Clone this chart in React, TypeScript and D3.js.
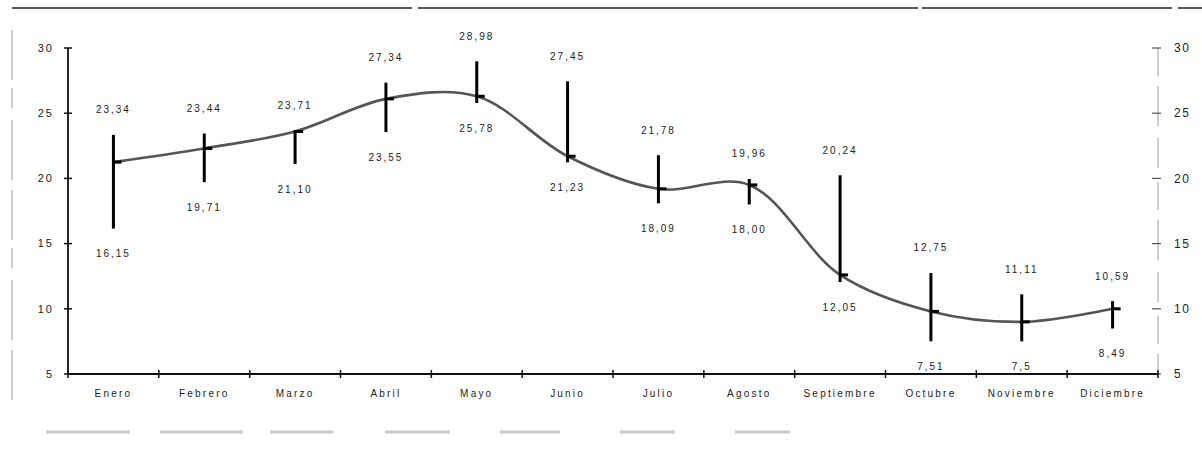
import React, { useEffect, useRef } from "react";
import * as d3 from "d3";

// monthly categories
const months = [
  "Enero", "Febrero", "Marzo", "Abril", "Mayo", "Junio",
  "Julio", "Agosto", "Septiembre", "Octubre", "Noviembre", "Diciembre",
];
// mean line
const meanValues = [21.25, 22.3, 23.6, 26.1, 26.3, 21.7, 19.2, 19.5, 12.6, 9.8, 9.0, 10.0];
// error bar ends
const maxValues = [23.34, 23.44, 23.71, 27.34, 28.98, 27.45, 21.78, 19.96, 20.24, 12.75, 11.11, 10.59];
const minValues = [16.15, 19.71, 21.1, 23.55, 25.78, 21.23, 18.09, 18.0, 12.05, 7.51, 7.5, 8.49];
const maxLabels = ["23,34", "23,44", "23,71", "27,34", "28,98", "27,45", "21,78", "19,96", "20,24", "12,75", "11,11", "10,59"];
const minLabels = ["16,15", "19,71", "21,10", "23,55", "25,78", "21,23", "18,09", "18,00", "12,05", "7,51", "7,5", "8,49"];
const yTicks = [5, 10, 15, 20, 25, 30];

const W = 1202;
const H = 459;
const FONT = "'Liberation Sans', Arial, sans-serif";

const App = () => {
  const svgRef = useRef(null);

  useEffect(() => {
    const svg = d3.select(svgRef.current);
    svg.selectAll("*").remove();

    const left = 68;
    const right = 1158;
    const top = 48;
    const bottom = 374;

    const x = d3.scaleBand().domain(months).range([left, right]);
    const y = d3.scaleLinear().domain([5, 30]).range([bottom, top]);
    const cx = (m) => x(m) + x.bandwidth() / 2;

    // scan frame remnants
    svg.append("line")
      .attr("x1", 12).attr("x2", W).attr("y1", 8).attr("y2", 8)
      .attr("stroke", "#222").attr("stroke-width", 1.4)
      .attr("stroke-dasharray", "400,6,500,4,250,6,400");
    svg.append("line")
      .attr("x1", 12).attr("x2", 12).attr("y1", 30).attr("y2", 400)
      .attr("stroke", "#999").attr("stroke-width", 1)
      .attr("stroke-dasharray", "50,8,20,12,60,10");
    [[46, 130], [160, 243], [270, 333], [385, 450], [500, 560], [620, 675], [735, 790]].forEach(([a, b]) => {
      svg.append("line")
        .attr("x1", a).attr("x2", b).attr("y1", 432).attr("y2", 432)
        .attr("stroke", "#c8c8c8").attr("stroke-width", 3);
    });

    // left axis
    svg.append("line")
      .attr("x1", left).attr("x2", left).attr("y1", y(30)).attr("y2", y(5))
      .attr("stroke", "#111").attr("stroke-width", 1.8);
    yTicks.forEach((t) => {
      svg.append("line")
        .attr("x1", left - 4).attr("x2", left + 4).attr("y1", y(t)).attr("y2", y(t))
        .attr("stroke", "#111").attr("stroke-width", 1.5);
      svg.append("text")
        .attr("x", left - 14).attr("y", y(t)).attr("dy", "0.35em")
        .attr("text-anchor", "end")
        .style("font-family", FONT).style("font-size", "11px")
        .style("letter-spacing", "2px").style("fill", "#222")
        .text(t);
    });

    // right axis
    svg.append("line")
      .attr("x1", right).attr("x2", right).attr("y1", y(30)).attr("y2", y(5))
      .attr("stroke", "#999").attr("stroke-width", 1)
      .attr("stroke-dasharray", "28,10,40,12,30,14");
    yTicks.forEach((t) => {
      svg.append("line")
        .attr("x1", right - 6).attr("x2", right + 3).attr("y1", y(t)).attr("y2", y(t))
        .attr("stroke", "#555").attr("stroke-width", 1.2);
      svg.append("text")
        .attr("x", right + 16).attr("y", y(t)).attr("dy", "0.35em")
        .attr("text-anchor", "start")
        .style("font-family", FONT).style("font-size", "12px")
        .style("letter-spacing", "1.5px").style("fill", "#222")
        .text(t);
    });

    // x axis
    svg.append("line")
      .attr("x1", left).attr("x2", right).attr("y1", bottom).attr("y2", bottom)
      .attr("stroke", "#111").attr("stroke-width", 2);
    months.concat(["end"]).forEach((m, i) => {
      const px = i < months.length ? x(m) : right;
      svg.append("line")
        .attr("x1", px).attr("x2", px).attr("y1", bottom - 4).attr("y2", bottom + 4)
        .attr("stroke", "#111").attr("stroke-width", 1.5);
    });
    months.forEach((m) => {
      svg.append("text")
        .attr("x", cx(m)).attr("y", 397)
        .attr("text-anchor", "middle")
        .style("font-family", FONT).style("font-size", "10px")
        .style("letter-spacing", "2.2px").style("fill", "#222")
        .text(m);
    });

    // mean curve
    const line = d3.line()
      .x((d, i) => cx(months[i]))
      .y((d) => y(d))
      .curve(d3.curveCatmullRom.alpha(0.5));
    svg.append("path")
      .datum(meanValues)
      .attr("d", line)
      .attr("fill", "none")
      .attr("stroke", "#555")
      .attr("stroke-width", 2.6);

    // error bars with labels
    months.forEach((m, i) => {
      const px = cx(m);
      svg.append("line")
        .attr("x1", px).attr("x2", px)
        .attr("y1", y(maxValues[i])).attr("y2", y(minValues[i]))
        .attr("stroke", "#000").attr("stroke-width", 3);
      svg.append("line")
        .attr("x1", px - 1).attr("x2", px + 8)
        .attr("y1", y(meanValues[i])).attr("y2", y(meanValues[i]))
        .attr("stroke", "#000").attr("stroke-width", 3);
      svg.append("text")
        .attr("x", px).attr("y", y(maxValues[i]) - 25).attr("dy", "0.35em")
        .attr("text-anchor", "middle")
        .style("font-family", FONT).style("font-size", "10px")
        .style("letter-spacing", "2px").style("fill", "#222")
        .text(maxLabels[i]);
      svg.append("text")
        .attr("x", px).attr("y", y(minValues[i]) + 25).attr("dy", "0.35em")
        .attr("text-anchor", "middle")
        .style("font-family", FONT).style("font-size", "10px")
        .style("letter-spacing", "2px").style("fill", "#222")
        .text(minLabels[i]);
    });
  }, []);

  return (
    <svg
      ref={svgRef}
      width={W}
      height={H}
      style={{ position: "absolute", left: 0, top: 0, background: "#fff" }}
    ></svg>
  );
};

export default App;
